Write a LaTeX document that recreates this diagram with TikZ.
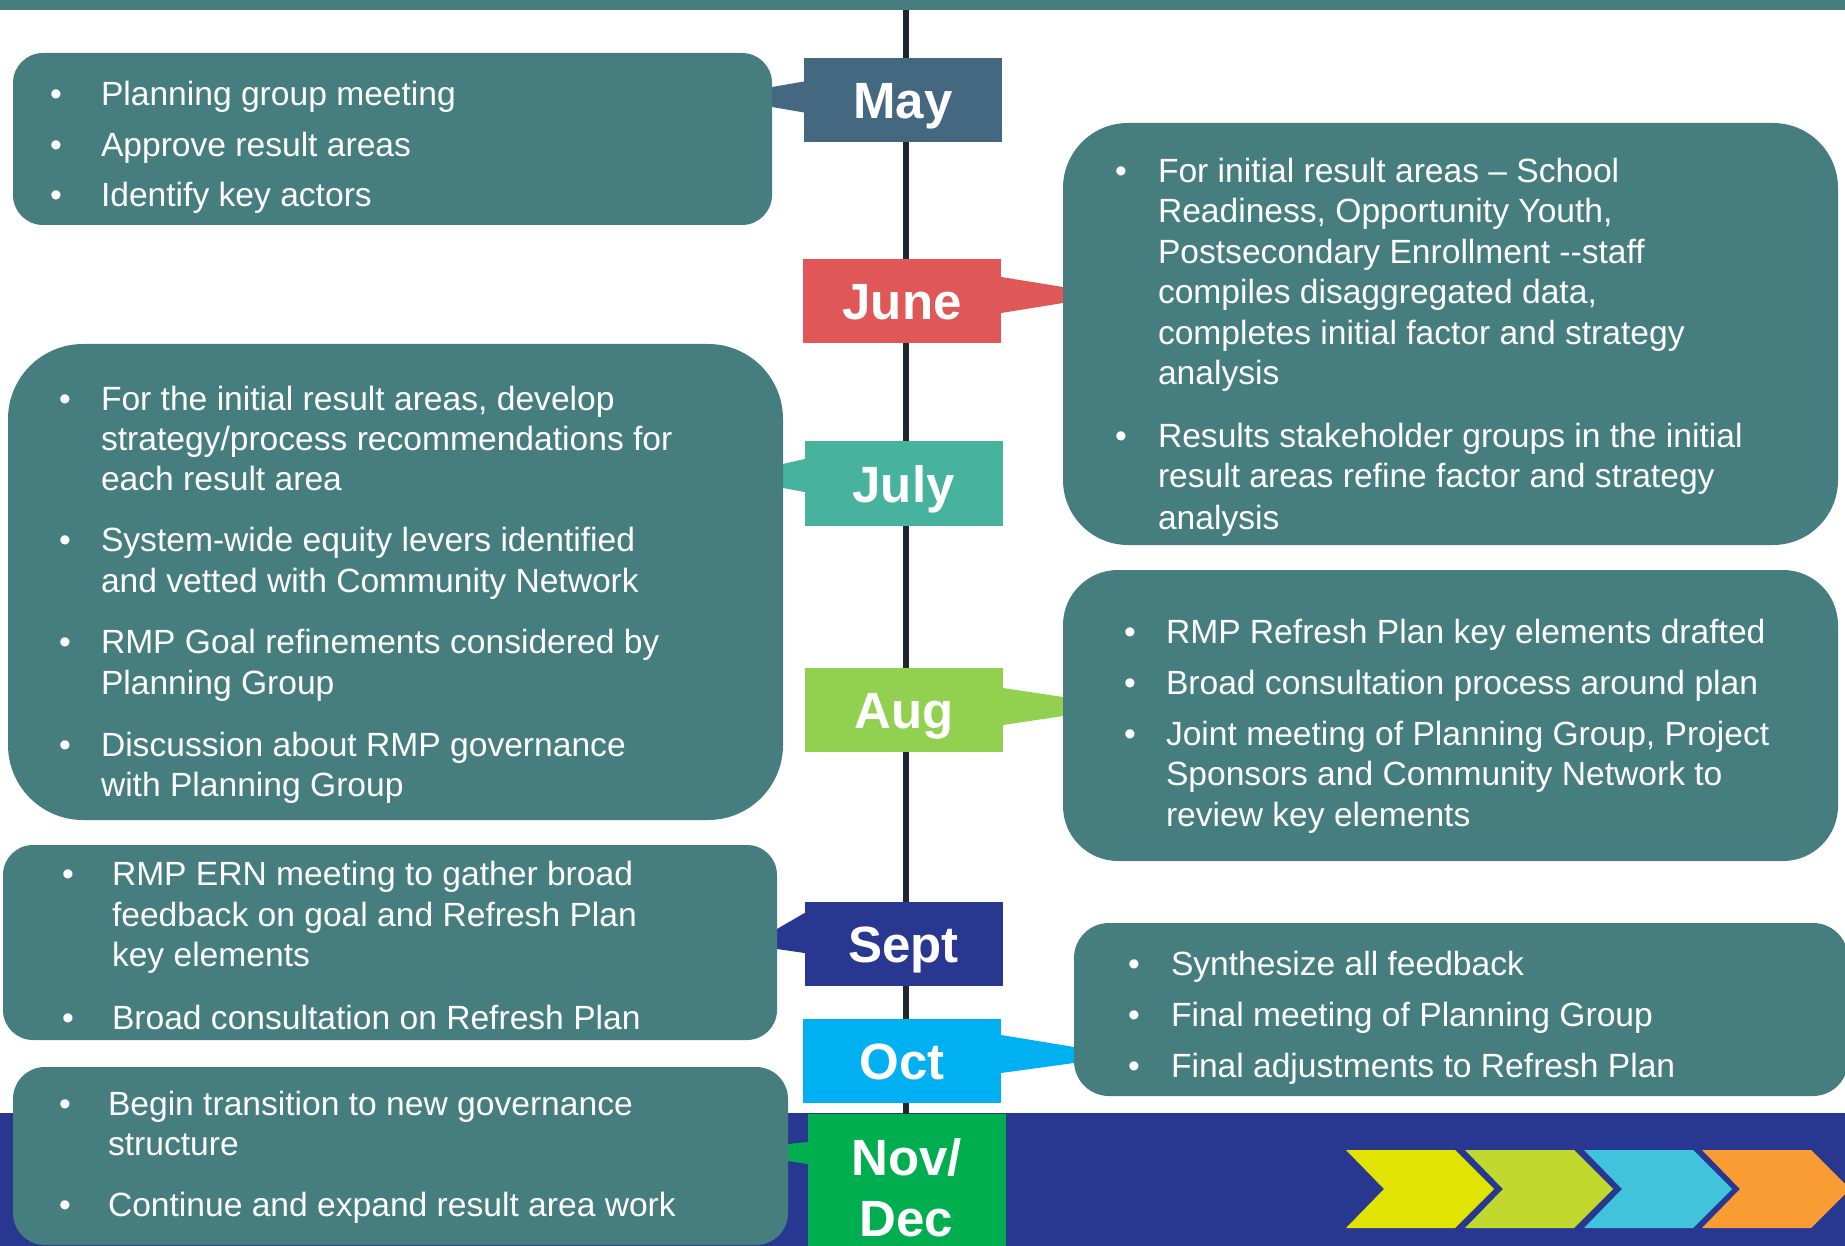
\documentclass[tikz,border=0pt]{standalone}
\usepackage{fontspec}
\setmainfont{Liberation Sans}
\pgfdeclarelayer{bg}
\pgfsetlayers{bg,main}
\definecolor{boxteal}{HTML}{467E7F}
\definecolor{maycol}{HTML}{44687F}
\definecolor{junecol}{HTML}{DF5757}
\definecolor{julycol}{HTML}{47B39E}
\definecolor{augcol}{HTML}{92D050}
\definecolor{septcol}{HTML}{283891}
\definecolor{octcol}{HTML}{00B0F0}
\definecolor{novcol}{HTML}{00AE50}
\definecolor{bandcol}{HTML}{283891}
\definecolor{linecol}{HTML}{1D2830}
\definecolor{chevA}{HTML}{E1E400}
\definecolor{chevB}{HTML}{C1D82F}
\definecolor{chevC}{HTML}{42C3DC}
\definecolor{chevD}{HTML}{F89C33}
\newcommand{\txtline}[4]{\node[txt] (#1) at (#2,#3) {#4};}
\newcommand{\bulpt}[3]{\node[blt] (#1) at (#2,#3) {\textbullet};}
\newcommand{\chevron}[2]{\fill[#2] (#1,1150) -- ++(109,0) -- ++(39,39) -- ++(-39,39) -- ++(-109,0) -- ++(38,-39) -- cycle;}
\begin{document}
\begin{tikzpicture}[x=1pt,y=-1pt,
  cbox/.style={fill=boxteal, inner sep=0pt, outer sep=0pt},
  mon/.style={inner sep=0pt, outer sep=0pt, minimum width=198pt, minimum height=84pt, text height=37pt, text depth=0pt, text=white, font=\fontsize{51}{61}\bfseries\selectfont},
  montxt/.style={anchor=base, inner sep=0pt, outer sep=0pt, text=white, font=\fontsize{51}{61}\bfseries\selectfont},
  txt/.style={anchor=base west, inner sep=0pt, outer sep=0pt, text=white, font=\fontsize{33.6}{40}\selectfont},
  blt/.style={anchor=base, inner sep=0pt, outer sep=0pt, text=white, font=\fontsize{33.6}{40}\selectfont}]
\useasboundingbox (0,0) rectangle (1845,1246);

% content boxes
\node[cbox, minimum width=759pt, minimum height=172pt, rounded corners=30pt] (b1) at (392.5,139) {};
\node[cbox, minimum width=775pt, minimum height=422pt, rounded corners=65pt] (b2) at (1450.5,334) {};
\node[cbox, minimum width=775pt, minimum height=476pt, rounded corners=75pt] (b3) at (395.5,582) {};
\node[cbox, minimum width=775pt, minimum height=291pt, rounded corners=55pt] (b4) at (1450.5,715.5) {};
\node[cbox, minimum width=774pt, minimum height=195pt, rounded corners=30pt] (b5) at (390,942.5) {};
\node[cbox, minimum width=774pt, minimum height=173pt, rounded corners=35pt] (b6) at (1461,1009.5) {};
\node[cbox, minimum width=775pt, minimum height=178pt, rounded corners=32pt] (b7) at (400.5,1156) {};

% month boxes
\node[mon, fill=maycol] (may) at (903,100) {May};
\node[mon, fill=junecol] (june) at (902,301) {June};
\node[mon, fill=julycol] (july) at (903.5,483.5) {July};
\node[mon, fill=augcol] (aug) at (904,710) {Aug};
\node[mon, fill=septcol] (sept) at (903.5,943.5) {Sept};
\node[mon, fill=octcol] (oct) at (902,1060.5) {Oct};
\node[mon, fill=novcol, minimum height=132pt] (nov) at (906.5,1180) {};
\node[montxt] (novA) at (906.5,1175) {Nov/};
\node[montxt] (novB) at (906.5,1236) {Dec};

\coordinate (ltop) at (906,10);
\coordinate (lbot) at (906,1114);

\begin{pgfonlayer}{bg}
  \fill[boxteal] (0,0) rectangle (1845,10);
  \fill[bandcol] (0,1113) rectangle (1845,1246);
  \draw[linecol, line width=6pt] (ltop) -- (lbot);
  \chevron{1346}{chevA}
  \chevron{1465}{chevB}
  \chevron{1584}{chevC}
  \chevron{1702}{chevD}
  % wedges
  \fill[maycol] (b1.east |- 0,87) -- (may.west |- 0,81.5) -- (may.center |- 0,81.5) -- (may.center |- 0,112.5) -- (may.west |- 0,112.5) -- (b1.east |- 0,107) -- cycle;
  \fill[junecol] (b2.west |- 0,287) -- (june.east |- 0,277) -- (june.center |- 0,277) -- (june.center |- 0,313) -- (june.east |- 0,313) -- (b2.west |- 0,303) -- cycle;
  \fill[julycol] (b3.east |- 0,464) -- (july.west |- 0,459) -- (july.center |- 0,459) -- (july.center |- 0,492) -- (july.west |- 0,492) -- (b3.east |- 0,488) -- cycle;
  \fill[augcol] (b4.west |- 0,697) -- (aug.east |- 0,688) -- (aug.center |- 0,688) -- (aug.center |- 0,725) -- (aug.east |- 0,725) -- (b4.west |- 0,716) -- cycle;
  \fill[septcol] (b5.east |- 0,929) -- (sept.west |- 0,913) -- (sept.center |- 0,913) -- (sept.center |- 0,953) -- (sept.west |- 0,953) -- (b5.east |- 0,949) -- cycle;
  \fill[octcol] (b6.west |- 0,1047) -- (oct.east |- 0,1035) -- (oct.center |- 0,1035) -- (oct.center |- 0,1073) -- (oct.east |- 0,1073) -- (b6.west |- 0,1063) -- cycle;
  \fill[novcol] (b7.east |- 0,1144) -- (nov.west |- 0,1142) -- (nov.center |- 0,1142) -- (nov.center |- 0,1164) -- (nov.west |- 0,1164) -- (b7.east |- 0,1161) -- cycle;
\end{pgfonlayer}

% box 1 text
\bulpt{b1p1}{56}{106} \txtline{b1t1}{101}{106}{Planning group meeting}
\bulpt{b1p2}{56}{157} \txtline{b1t2}{101}{157}{Approve result areas}
\bulpt{b1p3}{56}{207} \txtline{b1t3}{101}{207}{Identify key actors}

% box 2 text
\bulpt{b2p1}{1121}{183} \txtline{b2t1}{1158}{183}{For initial result areas – School}
\txtline{b2t2}{1158}{223}{Readiness, Opportunity Youth,}
\txtline{b2t3}{1158}{264}{Postsecondary Enrollment -{}-staff}
\txtline{b2t4}{1158}{304}{compiles disaggregated data,}
\txtline{b2t5}{1158}{345}{completes initial factor and strategy}
\txtline{b2t6}{1158}{385}{analysis}
\bulpt{b2p2}{1121}{447} \txtline{b2t7}{1158}{447}{Results stakeholder groups in the initial}
\txtline{b2t8}{1158}{487}{result areas refine factor and strategy}
\txtline{b2t9}{1158}{529}{analysis}

% box 3 text
\bulpt{b3p1}{65}{410} \txtline{b3t1}{101}{410}{For the initial result areas, develop}
\txtline{b3t2}{101}{450}{strategy/process recommendations for}
\txtline{b3t3}{101}{490}{each result area}
\bulpt{b3p2}{65}{551} \txtline{b3t4}{101}{551}{System-wide equity levers identified}
\txtline{b3t5}{101}{592}{and vetted with Community Network}
\bulpt{b3p3}{65}{653} \txtline{b3t6}{101}{653}{RMP Goal refinements considered by}
\txtline{b3t7}{101}{694}{Planning Group}
\bulpt{b3p4}{65}{756} \txtline{b3t8}{101}{756}{Discussion about RMP governance}
\txtline{b3t9}{101}{796}{with Planning Group}

% box 4 text
\bulpt{b4p1}{1130}{643} \txtline{b4t1}{1166}{643}{RMP Refresh Plan key elements drafted}
\bulpt{b4p2}{1130}{694} \txtline{b4t2}{1166}{694}{Broad consultation process around plan}
\bulpt{b4p3}{1130}{745} \txtline{b4t3}{1166}{745}{Joint meeting of Planning Group, Project}
\txtline{b4t4}{1166}{785}{Sponsors and Community Network to}
\txtline{b4t5}{1166}{826}{review key elements}

% box 5 text
\bulpt{b5p1}{68}{885} \txtline{b5t1}{112}{885}{RMP ERN meeting to gather broad}
\txtline{b5t2}{112}{926}{feedback on goal and Refresh Plan}
\txtline{b5t3}{112}{966}{key elements}
\bulpt{b5p2}{68}{1029} \txtline{b5t4}{112}{1029}{Broad consultation on Refresh Plan}

% box 6 text
\bulpt{b6p1}{1134}{975} \txtline{b6t1}{1171}{975}{Synthesize all feedback}
\bulpt{b6p2}{1134}{1026} \txtline{b6t2}{1171}{1026}{Final meeting of Planning Group}
\bulpt{b6p3}{1134}{1077} \txtline{b6t3}{1171}{1077}{Final adjustments to Refresh Plan}

% box 7 text
\bulpt{b7p1}{65}{1115} \txtline{b7t1}{108}{1115}{Begin transition to new governance}
\txtline{b7t2}{108}{1155}{structure}
\bulpt{b7p2}{65}{1216} \txtline{b7t3}{108}{1216}{Continue and expand result area work}
\end{tikzpicture}
\end{document}
